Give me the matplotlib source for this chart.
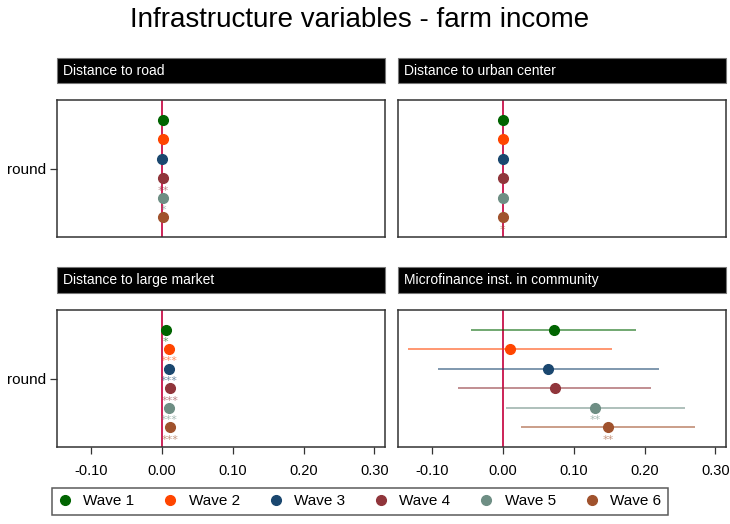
import matplotlib
matplotlib.use("Agg")
import matplotlib.pyplot as plt
from matplotlib.patches import Rectangle
from matplotlib.lines import Line2D

plt.rcParams["font.family"] = ["Liberation Sans", "DejaVu Sans"]

# Coefficient estimates per wave, with 95% confidence bounds and significance stars
waves = ["Wave 1", "Wave 2", "Wave 3", "Wave 4", "Wave 5", "Wave 6"]
colors = ["#006400", "#FF4500", "#1A476F", "#90353B", "#6E8E84", "#A0522D"]

panel_titles = ["Distance to road", "Distance to urban center",
                "Distance to large market", "Microfinance inst. in community"]

road_b = [0.0012, 0.0012, 0.0005, 0.0016, 0.0016, 0.0013]
road_lo = [0.0004, 0.0004, -0.0003, 0.0009, 0.0002, 0.0001]
road_hi = [0.0020, 0.0020, 0.0013, 0.0023, 0.0030, 0.0025]
road_stars = ["", "", "", "**", "*", ""]

urban_b = [0.0002, 0.0002, -0.0001, 0.0004, 0.0002, -0.0003]
urban_lo = [-0.0006, -0.0006, -0.0009, -0.0004, -0.0007, -0.0006]
urban_hi = [0.0010, 0.0010, 0.0007, 0.0012, 0.0011, -0.0000]
urban_stars = ["", "", "", "", "", "*"]

market_b = [0.0052, 0.0095, 0.0104, 0.0110, 0.0095, 0.0110]
market_lo = [0.0008, 0.0060, 0.0068, 0.0072, 0.0055, 0.0072]
market_hi = [0.0096, 0.0130, 0.0140, 0.0148, 0.0135, 0.0148]
market_stars = ["*", "***", "***", "***", "***", "***"]

mfi_b = [0.0714, 0.0094, 0.0638, 0.0733, 0.1300, 0.1484]
mfi_lo = [-0.0460, -0.1340, -0.0920, -0.0640, 0.0037, 0.0260]
mfi_hi = [0.1880, 0.1536, 0.2200, 0.2090, 0.2570, 0.2720]
mfi_stars = ["", "", "", "", "**", "**"]

panels = [
    (road_b, road_lo, road_hi, road_stars),
    (urban_b, urban_lo, urban_hi, urban_stars),
    (market_b, market_lo, market_hi, market_stars),
    (mfi_b, mfi_lo, mfi_hi, mfi_stars),
]

xticks = [-0.10, 0.00, 0.10, 0.20, 0.30]
xlim = (-0.1485, 0.3145)
row_offsets = [-2.5, -1.5, -0.5, 0.5, 1.5, 2.5]

W, H = 730, 524
fig = plt.figure(figsize=(W / 100, H / 100), dpi=100)


def fx(px):
    return px / W


def fy(px):
    return 1 - px / H


# panel geometry in pixels: (left, right, bar_top, bar_bottom, plot_top, plot_bottom)
geom = [
    (57, 384.5, 58, 83, 100, 237),
    (398, 725.5, 58, 83, 100, 237),
    (57, 384.5, 267, 292.5, 310, 447),
    (398, 725.5, 267, 292.5, 310, 447),
]

zero_color = "#CC2257"

for i, ((b, lo, hi, stars), (l, r, bt, bb, pt, pb)) in enumerate(zip(panels, geom)):
    ax = fig.add_axes([fx(l), fy(pb), fx(r - l), (pb - pt) / H])
    ax.set_xlim(*xlim)
    ax.set_ylim(3.5, -3.5)
    ax.axvline(0, color=zero_color, lw=1.4, zorder=1)
    for y, v, a, c, col, s in zip(row_offsets, b, lo, hi, colors, stars):
        ax.plot([a, c], [y, y], color=col, alpha=0.6, lw=1.3,
                solid_capstyle="butt", zorder=2)
        ax.plot([v], [y], "o", color=col, ms=7, mec=col, zorder=3)
        if s:
            ax.annotate(s, (v, y), xytext=(0, -11), textcoords="offset points",
                        ha="center", va="baseline", fontsize=8, color=col,
                        alpha=0.6, family="DejaVu Sans")
    for sp in ax.spines.values():
        sp.set_color("#333333")
        sp.set_linewidth(1.1)
    # y axis: single "round" category on the left column only
    if i in (0, 2):
        ax.set_yticks([0])
        ax.set_yticklabels(["round"], fontsize=11)
        ax.tick_params(axis="y", length=5, width=0.9, color="#333333", pad=3)
    else:
        ax.set_yticks([])
    # x axis: labels on the bottom row only
    ax.set_xticks(xticks)
    if i >= 2:
        ax.set_xticklabels([f"{t:.2f}" for t in xticks], fontsize=10.5)
        ax.tick_params(axis="x", length=5, width=0.9, color="#333333", pad=7)
    else:
        ax.tick_params(axis="x", length=0, labelbottom=False)

    # black title bar above each panel
    fig.add_artist(Rectangle((fx(l), fy(bb)), fx(r - l), (bb - bt) / H,
                             transform=fig.transFigure, facecolor="black",
                             edgecolor="#777777", lw=0.8))
    fig.text(fx(l + 6), fy((bt + bb) / 2 + 0.5), panel_titles[i], color="white",
             fontsize=10, va="center", ha="left")

fig.text(fx(360), fy(27), "Infrastructure variables - farm income",
         fontsize=20, ha="center", va="baseline")

handles = [Line2D([], [], ls="none", marker="o", ms=7, color=c, mec=c)
           for c in colors]
leg = fig.legend(handles, waves, loc="lower center", ncol=6,
                 bbox_to_anchor=(fx(360), fy(523)), fontsize=11,
                 frameon=True, fancybox=False, edgecolor="#333333",
                 handlelength=0.8, handletextpad=0.8, columnspacing=1.95,
                 borderpad=0.45)
leg.get_frame().set_linewidth(1.1)

fig.savefig("out.png", dpi=100)
